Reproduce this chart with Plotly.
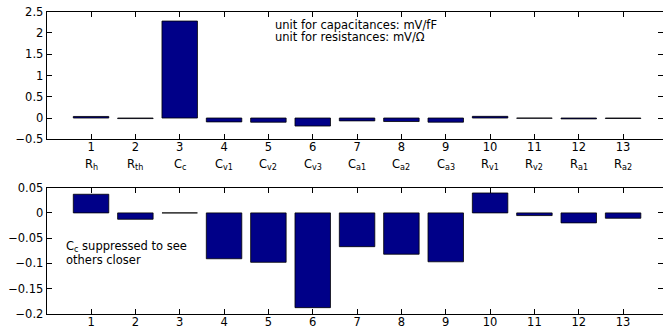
import plotly.graph_objects as go

# Data
indices = list(range(1, 14))
param_labels = ["R<sub>h</sub>", "R<sub>th</sub>", "C<sub>c</sub>", "C<sub>v1</sub>", "C<sub>v2</sub>",
                "C<sub>v3</sub>", "C<sub>a1</sub>", "C<sub>a2</sub>", "C<sub>a3</sub>", "R<sub>v1</sub>",
                "R<sub>v2</sub>", "R<sub>a1</sub>", "R<sub>a2</sub>"]
sensitivity = [0.037, -0.0126, 2.28, -0.091, -0.098, -0.188, -0.067, -0.082, -0.097,
               0.0395, -0.0053, -0.0198, -0.0106]
# Cc suppressed
sensitivity_suppressed = [0.037, -0.0126, 0.0, -0.091, -0.098, -0.188, -0.067, -0.082, -0.097,
                          0.0395, -0.0053, -0.0198, -0.0106]
top_yticks = [-0.5, 0, 0.5, 1, 1.5, 2, 2.5]
top_yticktext = ["\u22120.5", "0", "0.5", "1", "1.5", "2", "2.5"]
bot_yticks = [-0.2, -0.15, -0.1, -0.05, 0, 0.05]
bot_yticktext = ["\u22120.2", "\u22120.15", "\u22120.1", "\u22120.05", "0", "0.05"]

W, H = 663, 328
FONT = "DejaVu Sans, Liberation Sans, Arial, sans-serif"
FS = 11.5
BAR = "#000088"

def py(px):
    return 1 - px / H

fig = go.Figure()
fig.add_trace(go.Bar(x=indices, y=sensitivity, width=0.8, marker=dict(color=BAR, line=dict(color="black", width=0.8)),
                     xaxis="x", yaxis="y", showlegend=False, hoverinfo="skip"))
fig.add_trace(go.Bar(x=indices, y=sensitivity_suppressed, width=0.8, marker=dict(color=BAR, line=dict(color="black", width=0.8)),
                     xaxis="x2", yaxis="y2", showlegend=False, hoverinfo="skip"))

xcommon = dict(range=[0, 13.9], tickvals=indices, ticktext=[str(i) for i in indices],
               ticks="inside", ticklen=5, tickcolor="black", showline=True, linecolor="black", linewidth=1,
               mirror="ticks", showgrid=False, zeroline=False, automargin=False, ticklabelstandoff=-3,
               domain=[46.7 / W, 1], tickfont=dict(family=FONT, size=FS, color="black"))
ycommon = dict(ticks="inside", ticklen=5, tickcolor="black", showline=True, linecolor="black", linewidth=1,
               mirror="ticks", showgrid=False, zeroline=False, automargin=False,
               tickfont=dict(family=FONT, size=FS, color="black"))

fig.update_layout(
    width=W, height=H, margin=dict(l=0, r=0, t=0, b=0),
    paper_bgcolor="white", plot_bgcolor="white",
    xaxis=dict(**xcommon, anchor="y"),
    yaxis=dict(**ycommon, range=[-0.5, 2.5], tickvals=top_yticks, ticktext=top_yticktext,
               domain=[py(139.3), py(11.7)], anchor="x"),
    xaxis2=dict(**xcommon, anchor="y2"),
    yaxis2=dict(**ycommon, range=[-0.2, 0.05], tickvals=bot_yticks, ticktext=bot_yticktext,
                domain=[py(313.7), py(187.7)], anchor="x2"),
    bargap=0,
)

annotations = []
for i, lab in zip(indices, param_labels):
    annotations.append(dict(x=i, y=py(164), xref="x", yref="paper", text=lab, showarrow=False,
                            font=dict(family=FONT, size=FS, color="black"), xanchor="center", yanchor="middle"))
annotations.append(dict(x=272.7 / W, y=py(25), xref="paper", yref="paper",
                        text="unit for capacitances: mV/fF", showarrow=False, xanchor="left", yanchor="middle",
                        font=dict(family=FONT, size=FS, color="black")))
annotations.append(dict(x=272.7 / W, y=py(37), xref="paper", yref="paper",
                        text="unit for resistances: mV/\u03a9", showarrow=False, xanchor="left", yanchor="middle",
                        font=dict(family=FONT, size=FS, color="black")))
annotations.append(dict(x=64 / W, y=py(246.5), xref="paper", yref="paper",
                        text="C<sub>c</sub> suppressed to see", showarrow=False, xanchor="left", yanchor="middle",
                        font=dict(family=FONT, size=FS, color="black")))
annotations.append(dict(x=64 / W, y=py(259.5), xref="paper", yref="paper",
                        text="others closer", showarrow=False, xanchor="left", yanchor="middle",
                        font=dict(family=FONT, size=FS, color="black")))
fig.update_layout(annotations=annotations)

fig.write_html("out.html", config={"displayModeBar": False, "staticPlot": True},
               post_script="document.body.style.margin='0px';document.body.style.overflow='hidden';")
